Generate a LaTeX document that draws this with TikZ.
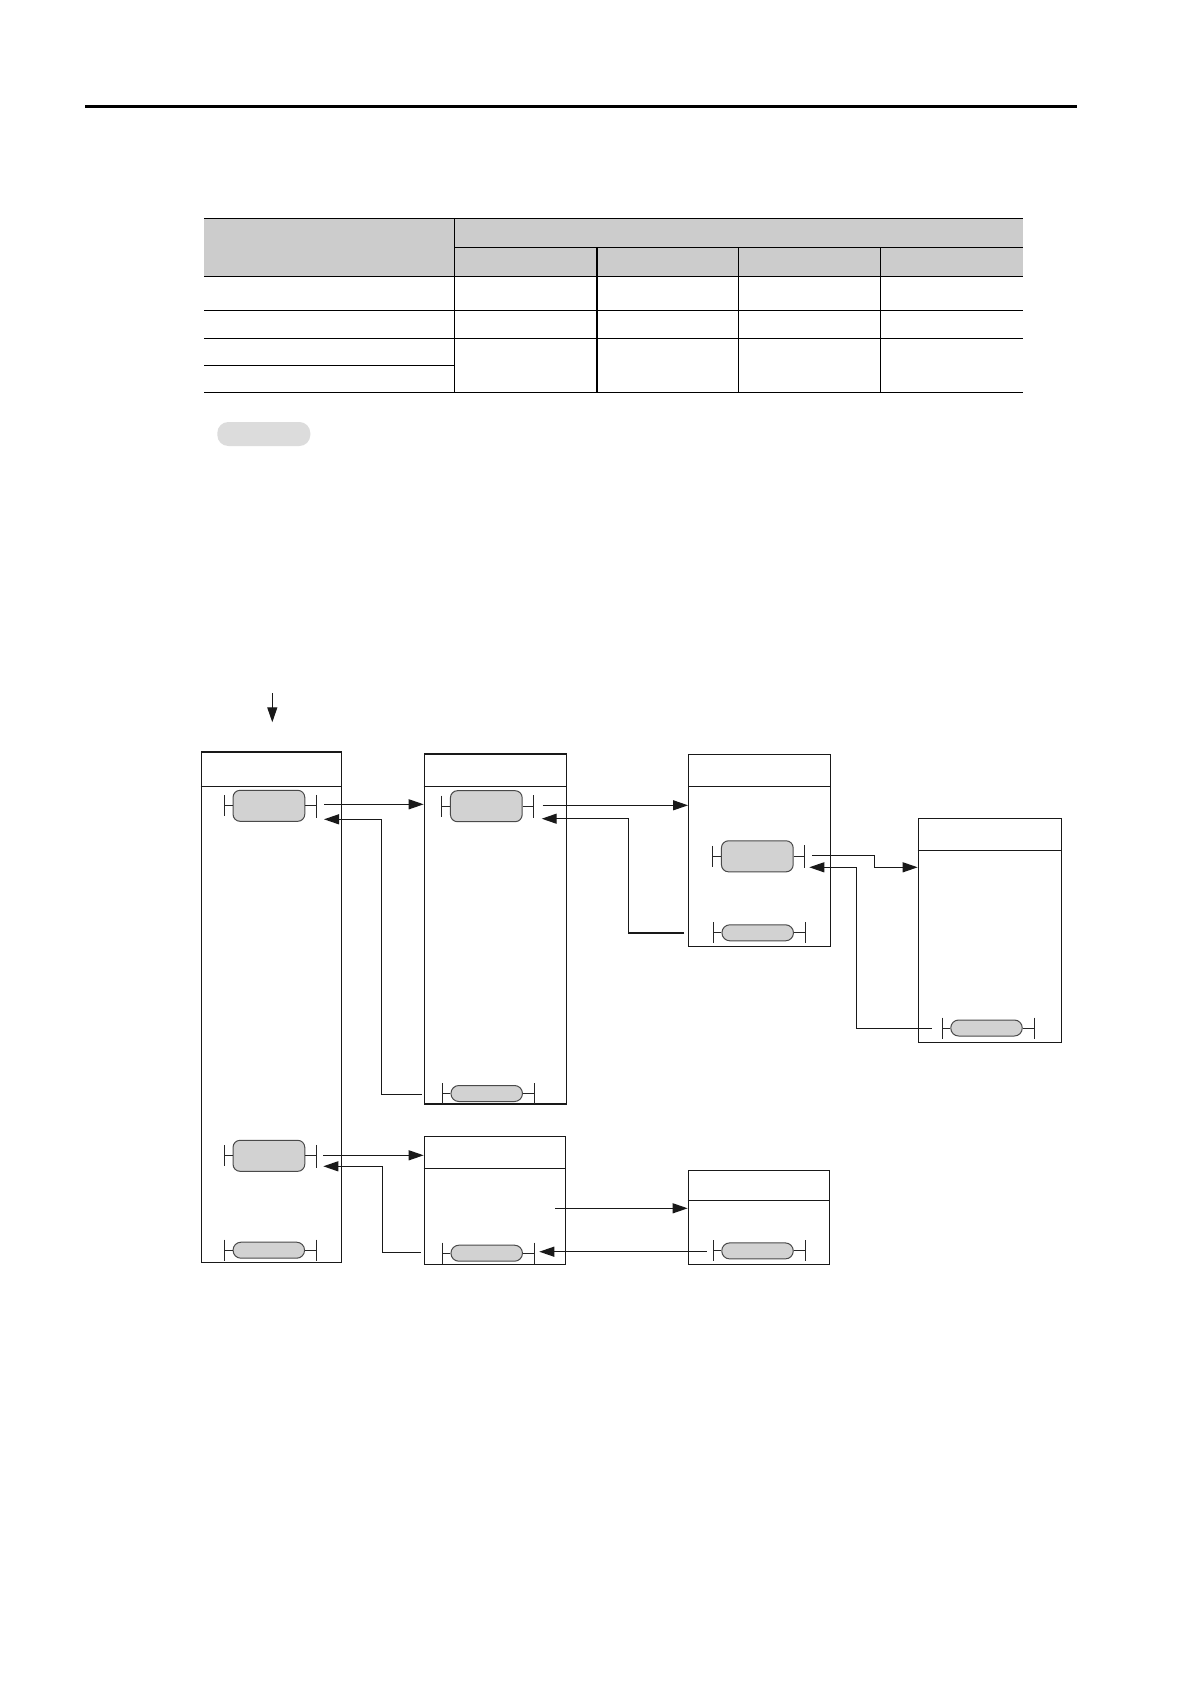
\documentclass[tikz,border=0pt]{standalone}
\usetikzlibrary{arrows.meta}
\definecolor{hdrgray}{HTML}{CCCCCC}
\definecolor{pillgray}{HTML}{D2D2D2}
\definecolor{notegray}{HTML}{DCDCDC}
\definecolor{edgegray}{HTML}{4A4A4A}
\begin{document}
\begin{tikzpicture}[x=1pt,y=-1pt,
  tline/.style={line width=1.3pt,black},
  blk/.style={draw=black!90,line width=1.3pt,minimum width=#1,inner sep=0pt,rectangle},
  bigpill/.style={draw=edgegray,fill=pillgray,line width=1pt,minimum width=71.7pt,minimum height=31pt,inner sep=0pt,rounded corners=7pt},
  smallpill/.style={draw=edgegray,fill=pillgray,line width=1pt,minimum width=71.5pt,minimum height=16pt,inner sep=0pt,rounded corners=7.9pt},
  barline/.style={line width=1pt,black!85},
  conn/.style={line width=1.2pt,black!90,-{Triangle[length=15pt,width=10pt]}},
  bigrung/.pic={
    \node[bigpill] (-p) at (0,0) {};
    \draw[barline] (-p.west) -- (-44.5,0) (-44.5,-10.5) -- (-44.5,10.5);
    \draw[barline] (-p.east) -- (47.5,0) (47.5,-11) -- (47.5,12);
    \coordinate (-r) at (47.5,0);
  },
  smallrung/.pic={
    \node[smallpill] (-p) at (0,0) {};
    \draw[barline] (-p.west) -- (-44.5,0) (-44.5,-10.5) -- (-44.5,10.5);
    \draw[barline] (-p.east) -- (47.5,0) (47.5,-10.5) -- (47.5,10.5);
    \coordinate (-r) at (47.5,0);
  }
]
\useasboundingbox (0,0) rectangle (1190,1684);
\fill[white] (0,0) rectangle (1190,1684);

% top rule
\draw[line width=2.7pt] (85,106.3) -- (1076.7,106.3);

% table
\fill[hdrgray] (204,218.3) rectangle (1022.7,276.3);
\draw[tline] (204,218.3) -- (1022.7,218.3);
\draw[tline] (454.3,247.3) -- (1022.7,247.3);
\draw[tline] (204,276.3) -- (1022.7,276.3);
\draw[tline] (204,310.3) -- (1022.7,310.3);
\draw[tline] (204,338.3) -- (1022.7,338.3);
\draw[tline] (204,365.3) -- (454.3,365.3);
\draw[tline] (204,392.3) -- (1022.7,392.3);
\draw[tline] (454.3,218.3) -- (454.3,392.3);
\draw[tline] (597,247.3) -- (597,392.3);
\draw[tline] (738.3,247.3) -- (738.3,392.3);
\draw[tline] (880.3,247.3) -- (880.3,392.3);
\fill[notegray,rounded corners=11pt] (217.3,422) rectangle (310.3,446);

% boxes
\node[blk=140pt,minimum height=510.3pt] (A) at (271.3,1007.15) {};
\node[blk=142.4pt,minimum height=350pt] (B) at (495.5,929) {};
\node[blk=141.6pt,minimum height=192pt] (C) at (759.5,850.3) {};
\node[blk=143pt,minimum height=224pt] (D) at (989.8,930.3) {};
\node[blk=141.4pt,minimum height=128pt] (E) at (495,1200.3) {};
\node[blk=141pt,minimum height=94pt] (F) at (758.8,1217.3) {};
% header lines
\draw[line width=1.3pt,black!90] (A.west |- 0,786.7) -- (A.east |- 0,786.7);
\draw[line width=1.3pt,black!90] (B.west |- 0,786.7) -- (B.east |- 0,786.7);
\draw[line width=1.3pt,black!90] (C.west |- 0,786.3) -- (C.east |- 0,786.3);
\draw[line width=1.3pt,black!90] (D.west |- 0,850.3) -- (D.east |- 0,850.3);
\draw[line width=1.3pt,black!90] (E.west |- 0,1168.3) -- (E.east |- 0,1168.3);
\draw[line width=1.3pt,black!90] (F.west |- 0,1200.3) -- (F.east |- 0,1200.3);

% rungs
\pic (A1) at (268.9,805.8) {bigrung};
\pic (A2) at (268.9,1155.8) {bigrung};
\pic (A3) at (268.8,1250.2) {smallrung};
\pic (B1) at (486.3,806.2) {bigrung};
\pic (B2) at (486.7,1093.5) {smallrung};
\pic (C1) at (757.3,856.3) {bigrung};
\pic (C2) at (757.7,932.8) {smallrung};
\pic (D2) at (986.5,1028) {smallrung};
\pic (E2) at (486.7,1253.2) {smallrung};
\pic (F2) at (757.5,1250.9) {smallrung};

% connector end points
\coordinate (start) at (272.3,693.3);
\coordinate (startend) at (272.3,722.3);
\coordinate (A1o) at (324,804.3);
\coordinate (A1i) at (324,819.3);
\coordinate (B2o) at (421.7,1094.3);
\coordinate (B1o) at (542.7,805.3);
\coordinate (B1i) at (541.7,818.7);
\coordinate (C2o) at (684,933);
\coordinate (C1o) at (812,855.3);
\coordinate (C1i) at (809.3,867.3);
\coordinate (D2o) at (931.7,1028.3);
\coordinate (A2o) at (323,1155.3);
\coordinate (A2i) at (323.3,1166.3);
\coordinate (E2o) at (420.7,1252.3);
\coordinate (Eo) at (555,1208.3);
\coordinate (F2o) at (706.7,1251.7);
\coordinate (E2i) at (539.3,1251.7);

% connectors
\draw[conn] (start) -- (startend);
\draw[conn] (A1o) -- (A1o -| B.west);
\draw[conn] (B2o) -- (381.3,1094.3) |- (A1i);
\draw[conn] (B1o) -- (B1o -| C.west);
\draw[conn] (C2o) -- (628.3,933) -- (628.3,818.7) -- (B1i);
\draw[conn] (C1o) -- (874.3,855.3) -- (874.3,867.3) -- (D.west |- 0,867.3);
\draw[conn] (D2o) -- (856.3,1028.3) -- (856.3,867.3) -- (C1i);
\draw[conn] (A2o) -- (A2o -| E.west);
\draw[conn] (E2o) -- (382.3,1252.3) |- (A2i);
\draw[conn] (Eo) -- (Eo -| F.west);
\draw[conn] (F2o) -- (E2i);
\end{tikzpicture}
\end{document}
